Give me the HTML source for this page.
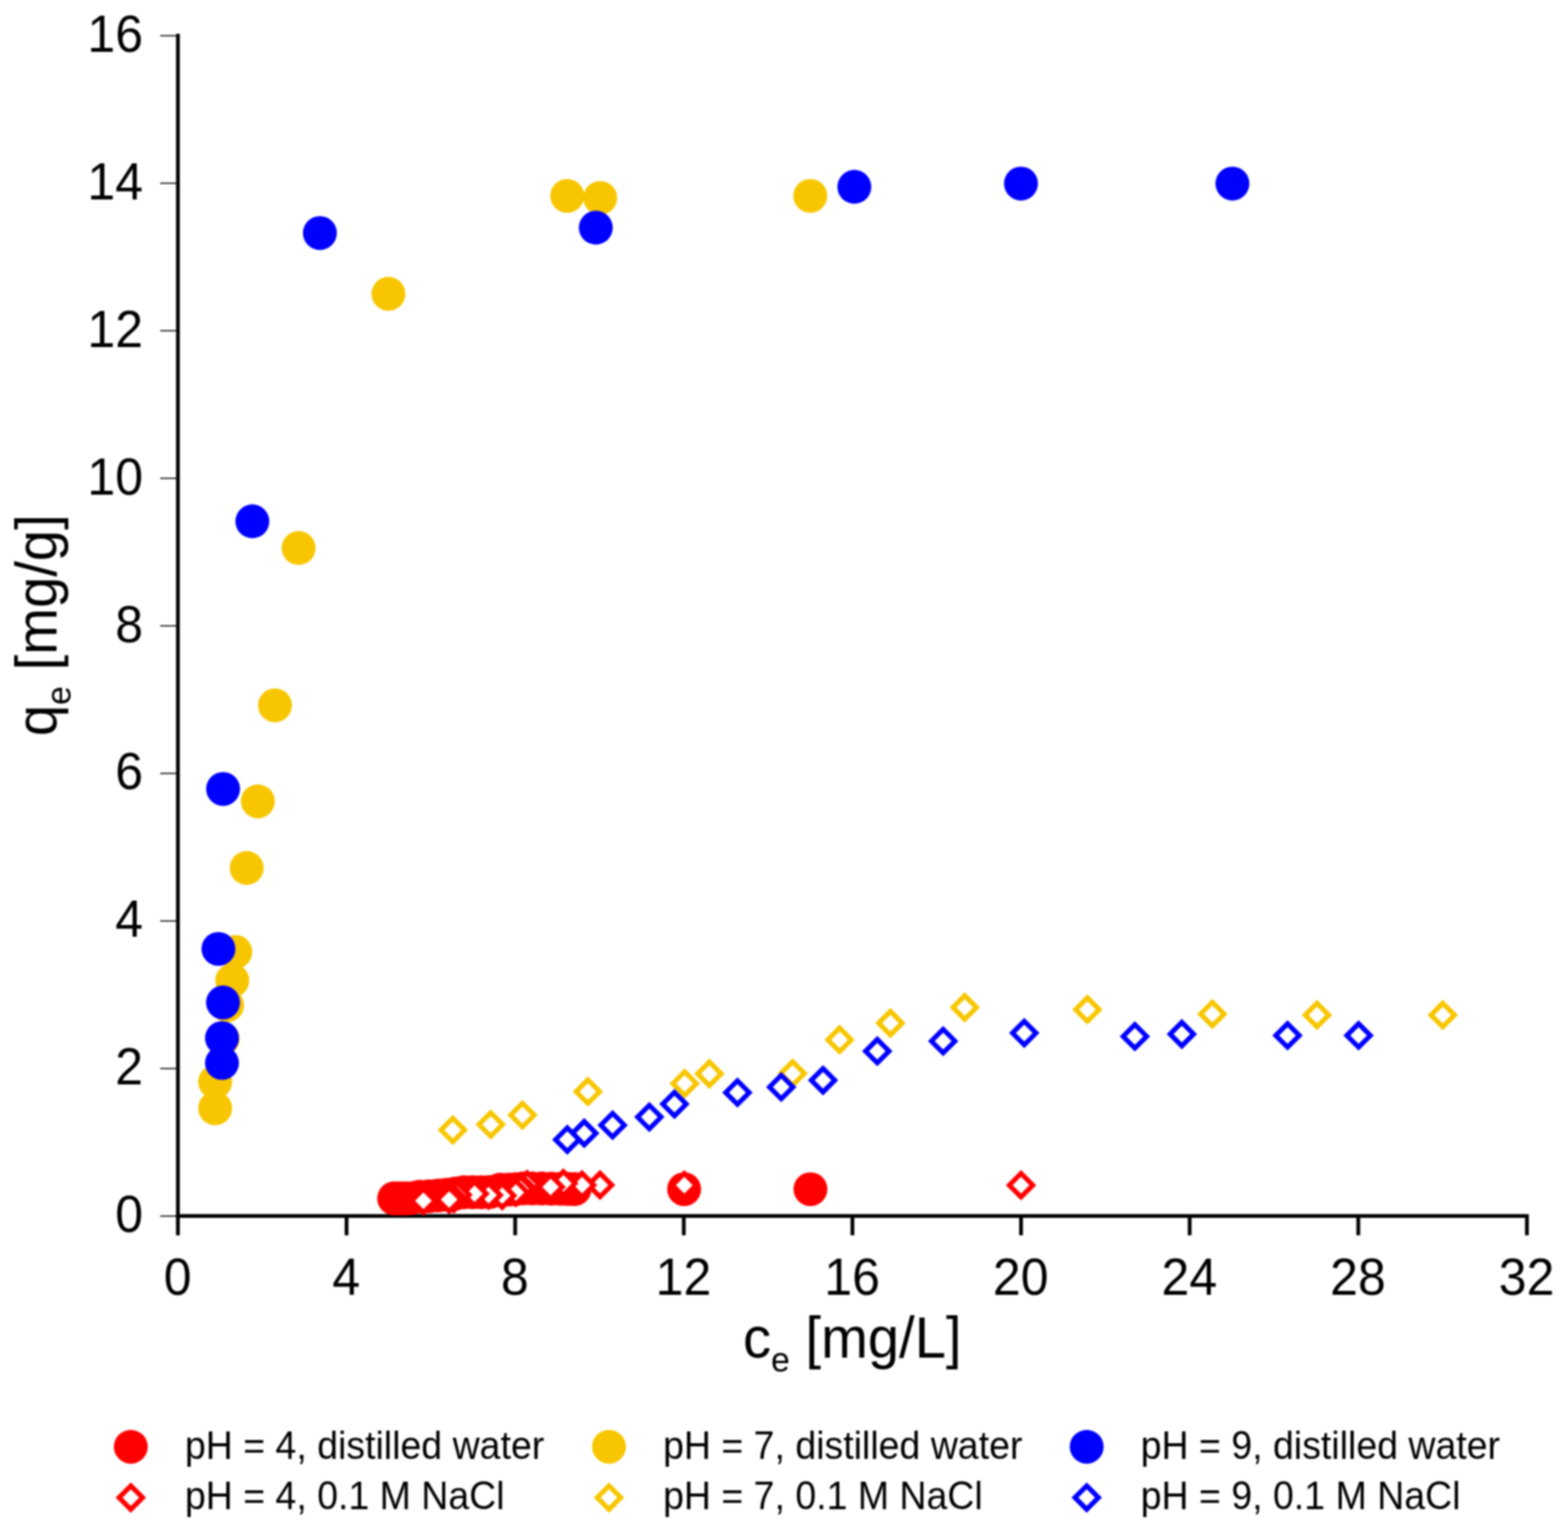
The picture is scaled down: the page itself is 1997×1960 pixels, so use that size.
<!DOCTYPE html>
<html lang="en"><head><meta charset="utf-8">
<title>Adsorption isotherms</title>
<style>
html,body{margin:0;padding:0;background:#fff;}
body{width:1997px;height:1960px;overflow:hidden;}
svg{display:block;filter:blur(0.8px);}
text{font-family:"Liberation Sans",sans-serif;fill:#000;}
.tk{font-size:63.7px;}
.ti{font-size:71.6px;}
.lg{font-size:47.75px;}
.c{stroke:none;}
.d{fill:#fff;stroke-width:6.2;stroke-linejoin:miter;}
</style></head><body>
<svg width="1997" height="1960" viewBox="0 0 1997 1960" role="img" aria-label="Adsorption isotherms: qe versus ce">
<g id="chart">
<rect x="0" y="0" width="1997" height="1960" fill="#fff"/>
<g id="axes" fill="none" stroke="#000" stroke-width="4.8" stroke-linecap="butt">
<line x1="226.6" y1="43" x2="226.6" y2="1573.2"/>
<line x1="224.2" y1="1548.7" x2="1947.08" y2="1548.7"/>
<line x1="441.36" y1="1548.7" x2="441.36" y2="1573.2"/>
<line x1="656.12" y1="1548.7" x2="656.12" y2="1573.2"/>
<line x1="870.88" y1="1548.7" x2="870.88" y2="1573.2"/>
<line x1="1085.64" y1="1548.7" x2="1085.64" y2="1573.2"/>
<line x1="1300.4" y1="1548.7" x2="1300.4" y2="1573.2"/>
<line x1="1515.16" y1="1548.7" x2="1515.16" y2="1573.2"/>
<line x1="1729.92" y1="1548.7" x2="1729.92" y2="1573.2"/>
<line x1="1944.68" y1="1548.7" x2="1944.68" y2="1573.2"/>
</g>
<g id="yticks" fill="none" stroke="#000" stroke-width="1.5">
<line x1="204" y1="1548.7" x2="224.7" y2="1548.7"/>
<line x1="204" y1="1360.8" x2="224.7" y2="1360.8"/>
<line x1="204" y1="1172.9" x2="224.7" y2="1172.9"/>
<line x1="204" y1="985" x2="224.7" y2="985"/>
<line x1="204" y1="797.1" x2="224.7" y2="797.1"/>
<line x1="204" y1="609.2" x2="224.7" y2="609.2"/>
<line x1="204" y1="421.3" x2="224.7" y2="421.3"/>
<line x1="204" y1="233.4" x2="224.7" y2="233.4"/>
<line x1="204" y1="45.5" x2="224.7" y2="45.5"/>
</g>
<g id="xlabels">
<text class="tk" transform="translate(226.2 1649.2) scale(1 1.04)" text-anchor="middle">0</text>
<text class="tk" transform="translate(440.96 1649.2) scale(1 1.04)" text-anchor="middle">4</text>
<text class="tk" transform="translate(655.72 1649.2) scale(1 1.04)" text-anchor="middle">8</text>
<text class="tk" transform="translate(870.48 1649.2) scale(1 1.04)" text-anchor="middle">12</text>
<text class="tk" transform="translate(1085.24 1649.2) scale(1 1.04)" text-anchor="middle">16</text>
<text class="tk" transform="translate(1300 1649.2) scale(1 1.04)" text-anchor="middle">20</text>
<text class="tk" transform="translate(1514.76 1649.2) scale(1 1.04)" text-anchor="middle">24</text>
<text class="tk" transform="translate(1729.52 1649.2) scale(1 1.04)" text-anchor="middle">28</text>
<text class="tk" transform="translate(1944.28 1649.2) scale(1 1.04)" text-anchor="middle">32</text>
</g>
<g id="ylabels">
<text class="tk" transform="translate(182.2 1569.1) scale(1 1.04)" text-anchor="end">0</text>
<text class="tk" transform="translate(182.2 1381.2) scale(1 1.04)" text-anchor="end">2</text>
<text class="tk" transform="translate(182.2 1193.3) scale(1 1.04)" text-anchor="end">4</text>
<text class="tk" transform="translate(182.2 1005.4) scale(1 1.04)" text-anchor="end">6</text>
<text class="tk" transform="translate(182.2 817.5) scale(1 1.04)" text-anchor="end">8</text>
<text class="tk" transform="translate(182.2 629.6) scale(1 1.04)" text-anchor="end">10</text>
<text class="tk" transform="translate(182.2 441.7) scale(1 1.04)" text-anchor="end">12</text>
<text class="tk" transform="translate(182.2 253.8) scale(1 1.04)" text-anchor="end">14</text>
<text class="tk" transform="translate(182.2 65.9) scale(1 1.04)" text-anchor="end">16</text>
</g>
<text class="ti" transform="translate(1085.4 1729.4) scale(1 1.04)" text-anchor="middle">c<tspan dy="17.3" font-size="43">e</tspan><tspan dy="-17.3"> </tspan>[mg/L]</text>
<text class="ti" transform="translate(72.3 796.2) rotate(-90) scale(1 1.04)" text-anchor="middle">q<tspan dy="17.3" font-size="43">e</tspan><tspan dy="-17.3"> </tspan>[mg/g]</text>
<g id="s-red-c" class="c" fill="#ff0000">
<circle cx="502" cy="1526.2" r="21.6"/>
<circle cx="509" cy="1526.2" r="21.6"/>
<circle cx="516" cy="1526.2" r="21.6"/>
<circle cx="523" cy="1526" r="21.6"/>
<circle cx="534.3" cy="1524" r="21.6"/>
<circle cx="546" cy="1523.5" r="21.6"/>
<circle cx="558" cy="1522.5" r="21.6"/>
<circle cx="569" cy="1521.5" r="21.6"/>
<circle cx="580" cy="1520" r="21.6"/>
<circle cx="591" cy="1518.3" r="21.6"/>
<circle cx="602" cy="1518.3" r="21.6"/>
<circle cx="613" cy="1518.3" r="21.6"/>
<circle cx="624" cy="1518" r="21.6"/>
<circle cx="637" cy="1515.2" r="21.6"/>
<circle cx="648" cy="1515" r="21.6"/>
<circle cx="656" cy="1514.6" r="21.6"/>
<circle cx="666" cy="1513.5" r="21.6"/>
<circle cx="678" cy="1513.5" r="21.6"/>
<circle cx="690" cy="1513.6" r="21.6"/>
<circle cx="702" cy="1513.8" r="21.6"/>
<circle cx="714" cy="1514" r="21.6"/>
<circle cx="724" cy="1514.2" r="21.6"/>
<circle cx="731.8" cy="1514.3" r="21.6"/>
<circle cx="871.3" cy="1514.5" r="21.6"/>
<circle cx="1032.2" cy="1514.5" r="21.6"/>
</g>
<g id="s-red-d" class="d" stroke="#ff0000">
<path d="M1300.4 1494.4L1315.4 1509.4L1300.4 1524.4L1285.4 1509.4Z"/>
<path d="M871.5 1494.4L886.5 1509.4L871.5 1524.4L856.5 1509.4Z"/>
<path d="M764.2 1494.2L779.2 1509.2L764.2 1524.2L749.2 1509.2Z"/>
<path d="M741.3 1494.2L756.3 1509.2L741.3 1524.2L726.3 1509.2Z"/>
<path d="M717.5 1492.1L732.5 1507.1L717.5 1522.1L702.5 1507.1Z"/>
<path d="M701.3 1496.8L716.3 1511.8L701.3 1526.8L686.3 1511.8Z"/>
<path d="M671.3 1493.6L686.3 1508.6L671.3 1523.6L656.3 1508.6Z"/>
<path d="M665.5 1498.2L680.5 1513.2L665.5 1528.2L650.5 1513.2Z"/>
<path d="M663 1499L678 1514L663 1529L648 1514Z"/>
<path d="M657 1503.7L672 1518.7L657 1533.7L642 1518.7Z"/>
<path d="M639.6 1507.7L654.6 1522.7L639.6 1537.7L624.6 1522.7Z"/>
<path d="M622.3 1507.1L637.3 1522.1L622.3 1537.1L607.3 1522.1Z"/>
<path d="M604.4 1505.2L619.4 1520.2L604.4 1535.2L589.4 1520.2Z"/>
<path d="M582.7 1506.8L597.7 1521.8L582.7 1536.8L567.7 1521.8Z"/>
<path d="M578 1511.7L593 1526.7L578 1541.7L563 1526.7Z"/>
<path d="M572.1 1512.7L587.1 1527.7L572.1 1542.7L557.1 1527.7Z"/>
<path d="M539.3 1514.3L554.3 1529.3L539.3 1544.3L524.3 1529.3Z"/>
</g>
<g id="s-yel-c" class="c" fill="#f8c600">
<circle cx="274" cy="1411.5" r="21.6"/>
<circle cx="274" cy="1377.7" r="21.6"/>
<circle cx="283.8" cy="1322.8" r="21.6"/>
<circle cx="289.2" cy="1280.3" r="21.6"/>
<circle cx="295.8" cy="1248.8" r="21.6"/>
<circle cx="299.7" cy="1212.3" r="21.6"/>
<circle cx="314.2" cy="1105.4" r="21.6"/>
<circle cx="328.4" cy="1020.6" r="21.6"/>
<circle cx="350.2" cy="898.3" r="21.6"/>
<circle cx="380.3" cy="697.9" r="21.6"/>
<circle cx="494.7" cy="374.2" r="21.6"/>
<circle cx="722.4" cy="249.5" r="21.6"/>
<circle cx="764.4" cy="252.1" r="21.6"/>
<circle cx="1032" cy="249.5" r="21.6"/>
</g>
<g id="s-yel-d" class="d" stroke="#f8c600">
<path d="M1837.5 1277.7L1852.5 1292.7L1837.5 1307.7L1822.5 1292.7Z"/>
<path d="M1677.3 1277.7L1692.3 1292.7L1677.3 1307.7L1662.3 1292.7Z"/>
<path d="M1544.1 1276.4L1559.1 1291.4L1544.1 1306.4L1529.1 1291.4Z"/>
<path d="M1384.9 1270.7L1399.9 1285.7L1384.9 1300.7L1369.9 1285.7Z"/>
<path d="M1228.7 1268L1243.7 1283L1228.7 1298L1213.7 1283Z"/>
<path d="M1134 1288L1149 1303L1134 1318L1119 1303Z"/>
<path d="M1069.3 1309.2L1084.3 1324.2L1069.3 1339.2L1054.3 1324.2Z"/>
<path d="M1009.5 1352.1L1024.5 1367.1L1009.5 1382.1L994.5 1367.1Z"/>
<path d="M903.5 1352.5L918.5 1367.5L903.5 1382.5L888.5 1367.5Z"/>
<path d="M872 1364.9L887 1379.9L872 1394.9L857 1379.9Z"/>
<path d="M748.7 1375.2L763.7 1390.2L748.7 1405.2L733.7 1390.2Z"/>
<path d="M665.4 1405.1L680.4 1420.1L665.4 1435.1L650.4 1420.1Z"/>
<path d="M625 1417.1L640 1432.1L625 1447.1L610 1432.1Z"/>
<path d="M576.7 1424.1L591.7 1439.1L576.7 1454.1L561.7 1439.1Z"/>
</g>
<g id="s-blu-c" class="c" fill="#0000ff">
<circle cx="282.7" cy="1353.7" r="21.6"/>
<circle cx="282.7" cy="1322" r="21.6"/>
<circle cx="284" cy="1276.7" r="21.6"/>
<circle cx="278.2" cy="1208.5" r="21.6"/>
<circle cx="284.1" cy="1004.8" r="21.6"/>
<circle cx="321.4" cy="663.9" r="21.6"/>
<circle cx="407.4" cy="296.8" r="21.6"/>
<circle cx="758.8" cy="289.9" r="21.6"/>
<circle cx="1088.1" cy="237.9" r="21.6"/>
<circle cx="1300.3" cy="233.8" r="21.6"/>
<circle cx="1569.6" cy="233.8" r="21.6"/>
</g>
<g id="s-blu-d" class="d" stroke="#0000ff">
<path d="M1730.3 1303.7L1745.3 1318.7L1730.3 1333.7L1715.3 1318.7Z"/>
<path d="M1639.8 1303.7L1654.8 1318.7L1639.8 1333.7L1624.8 1318.7Z"/>
<path d="M1505.2 1302L1520.2 1317L1505.2 1332L1490.2 1317Z"/>
<path d="M1445.4 1304.9L1460.4 1319.9L1445.4 1334.9L1430.4 1319.9Z"/>
<path d="M1304.5 1300.6L1319.5 1315.6L1304.5 1330.6L1289.5 1315.6Z"/>
<path d="M1201.2 1310.9L1216.2 1325.9L1201.2 1340.9L1186.2 1325.9Z"/>
<path d="M1117.3 1323.7L1132.3 1338.7L1117.3 1353.7L1102.3 1338.7Z"/>
<path d="M1048.2 1360.8L1063.2 1375.8L1048.2 1390.8L1033.2 1375.8Z"/>
<path d="M995 1369.4L1010 1384.4L995 1399.4L980 1384.4Z"/>
<path d="M939.2 1376.4L954.2 1391.4L939.2 1406.4L924.2 1391.4Z"/>
<path d="M859 1391.1L874 1406.1L859 1421.1L844 1406.1Z"/>
<path d="M827 1407.6L842 1422.6L827 1437.6L812 1422.6Z"/>
<path d="M780.2 1417.9L795.2 1432.9L780.2 1447.9L765.2 1432.9Z"/>
<path d="M744.1 1428.2L759.1 1443.2L744.1 1458.2L729.1 1443.2Z"/>
<path d="M722.5 1436.4L737.5 1451.4L722.5 1466.4L707.5 1451.4Z"/>
</g>
<g id="legend">
<circle cx="166.6" cy="1842.6" r="21.6" fill="#ff0000"/>
<path class="d" stroke="#ff0000" d="M166.6 1892.3L181.6 1907.3L166.6 1922.3L151.6 1907.3Z"/>
<text class="lg" transform="translate(235.4 1857.7) scale(1 1.04)" text-anchor="start">pH = 4, distilled water</text>
<text class="lg" transform="translate(235.4 1921.8) scale(1 1.04)" text-anchor="start">pH = 4, 0.1 M NaCl</text>
<circle cx="775.6" cy="1842.6" r="21.6" fill="#f8c600"/>
<path class="d" stroke="#f8c600" d="M775.6 1892.3L790.6 1907.3L775.6 1922.3L760.6 1907.3Z"/>
<text class="lg" transform="translate(844.4 1857.7) scale(1 1.04)" text-anchor="start">pH = 7, distilled water</text>
<text class="lg" transform="translate(844.4 1921.8) scale(1 1.04)" text-anchor="start">pH = 7, 0.1 M NaCl</text>
<circle cx="1384" cy="1842.6" r="21.6" fill="#0000ff"/>
<path class="d" stroke="#0000ff" d="M1384 1892.3L1399 1907.3L1384 1922.3L1369 1907.3Z"/>
<text class="lg" transform="translate(1452.8 1857.7) scale(1 1.04)" text-anchor="start">pH = 9, distilled water</text>
<text class="lg" transform="translate(1452.8 1921.8) scale(1 1.04)" text-anchor="start">pH = 9, 0.1 M NaCl</text>
</g>
</g>
</svg>
</body></html>
